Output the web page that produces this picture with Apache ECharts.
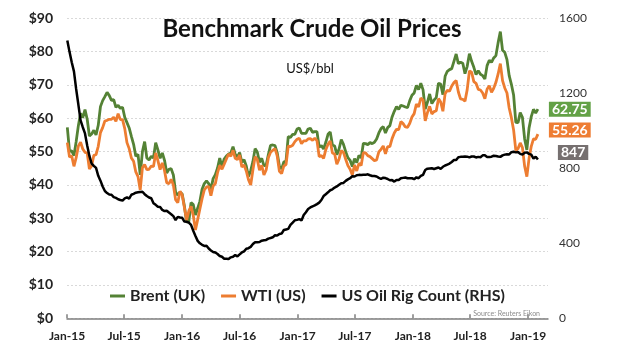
<!DOCTYPE html>
<html>
<head>
<meta charset="utf-8">
<script src="https://cdn.jsdelivr.net/npm/echarts@6/dist/echarts.min.js"></script>
<style>
html,body{margin:0;padding:0;background:#fff;}
#chart{width:620px;height:355px;}
</style>
</head>
<body>
<div id="chart"></div>
<script>
// Weekly observations (Fridays), first week ending 2015-01-02
const firstWeek = '2015-01-02';

const brent = [
  // 2015
  57.3,50.1,50.2,48.8,53.0, 57.8,61.5,60.2,62.6, 59.7,54.7,55.3,56.4, 55.0,57.9,63.5,65.3,
  66.5,67.8,66.8,65.4,65.6, 63.3,63.9,63.0,63.3, 60.3,58.7,57.1,54.6,52.2, 48.6,49.2,43.0,50.0,
  53.0,48.1,47.5,48.6, 48.1,52.7,50.5,48.0,49.6, 47.4,43.6,44.7,44.9, 43.0,37.9,36.9,37.9, 37.3,
  // 2016
  33.6,28.9,29.0,34.7, 34.1,31.0,33.0,35.1, 38.7,40.4,41.2,40.4, 38.7,41.9,43.1,45.1,48.1,
  45.4,47.8,48.7,49.3, 49.6,51.5,49.2,48.4, 49.7,46.8,47.6,45.7,42.5, 44.3,47.0,50.9,49.9,
  46.8,48.0,45.8,45.9,49.1, 51.9,52.0,51.8,49.7, 45.6,44.8,46.9,47.2, 54.5,54.3,55.2,55.2,56.8,
  // 2017
  57.1,55.5,55.5,55.5, 56.8,57.0,55.8,56.0, 56.0,51.4,51.8,50.8,52.8, 55.2,55.9,52.0,51.7,
  49.1,50.8,53.6,52.2, 50.0,48.2,47.4,45.5,47.9, 46.7,48.9,48.1,52.5, 52.4,52.1,52.7,52.4,
  52.8,53.8,55.6,56.9,57.5, 55.6,57.2,57.8,60.4, 62.1,63.5,62.7,63.9, 63.7,63.4,63.2,65.3,66.9,
  // 2018
  67.6,69.9,68.6,70.5, 68.6,62.8,64.8,67.3, 64.4,65.5,66.2,70.5,70.3, 67.1,72.6,74.1,74.6,
  74.9,77.1,79.3,76.4, 76.8,76.5,73.4,75.6,79.4, 77.1,75.3,73.1,74.3, 73.2,72.8,71.8,75.8,77.4,
  76.8,78.1,78.8,82.7, 86.0,80.4,79.8,77.6, 72.8,70.2,67.0,58.8,58.7, 61.7,60.3,53.8,50.5,
  // 2019
  57.1,60.5,62.7,61.6,62.75
];

const wti = [
  // 2015
  52.7,48.4,48.7,45.6,48.2, 51.7,52.8,50.8,49.8, 49.6,44.8,45.7,48.9, 49.1,51.6,55.7,57.2,
  59.2,59.4,59.7,59.7,60.3, 59.1,61.4,59.6,59.6, 56.9,52.7,50.9,48.1,47.1, 43.9,42.5,38.5,45.2,
  46.1,44.6,44.7,45.7, 45.5,49.6,47.3,44.6,46.6, 44.3,40.7,40.4,41.7, 40.0,35.6,34.7,38.1, 37.0,
  // 2016
  33.2,29.4,32.2,33.6, 30.9,26.5,29.6,32.8, 35.9,38.5,39.4,39.5, 36.8,39.7,40.4,43.7,45.9,
  44.7,46.2,47.8,49.3, 48.6,50.4,48.0,47.6, 49.0,45.4,46.0,44.2,41.6, 40.0,44.5,48.5,47.6,
  44.4,45.9,43.0,44.5,48.2, 49.8,50.4,50.9,48.7, 44.1,43.4,45.7,46.1, 51.7,51.5,51.9,53.0,53.7,
  // 2017
  54.0,52.4,53.2,53.2, 53.8,53.9,53.4,54.0, 53.3,48.5,48.8,48.0,50.6, 52.2,53.2,49.6,49.3,
  46.2,47.8,50.3,49.8, 47.7,45.8,44.7,43.0,46.0, 44.2,46.5,45.8,49.7, 49.6,48.8,48.5,47.9,
  47.3,47.5,49.9,50.7,51.7, 49.3,51.5,51.5,53.9, 55.6,56.7,56.6,59.0, 58.4,57.4,57.3,58.5,60.4,
  // 2018
  61.4,64.3,63.4,66.1, 65.5,59.2,61.7,63.6, 61.3,62.0,62.3,65.9,64.9, 62.1,67.4,68.4,68.1,
  69.7,70.7,71.3,67.9, 65.8,65.7,65.1,68.6,74.2, 73.8,71.0,70.5,68.7, 68.5,67.6,65.9,68.7,69.8,
  67.8,69.0,70.8,73.3, 76.4,71.3,69.1,67.6, 63.1,60.2,56.5,50.4,50.9, 52.6,51.2,45.6,42.5,
  // 2019
  48.0,51.6,53.8,53.7,55.26
];

const rigs = [
  // 2015
  1482,1421,1366,1317,1223, 1140,1056,1019,986, 922,866,825,813, 802,760,734,703,
  679,668,660,659,646, 642,635,631,628, 640,645,638,659,664, 670,672,674,675,
  662,652,644,640, 614,605,595,594,578, 572,574,564,555, 545,524,541,538, 536,
  // 2016
  516,515,510,498, 467,439,413,400, 392,386,387,372, 362,354,351,343,332,
  328,318,318,316, 325,328,337,330, 341,351,357,371,374, 381,396,406,406,
  407,414,416,418,425, 428,432,443,441, 450,452,471,474, 477,498,510,523,525,
  // 2017
  529,522,551,566, 583,591,597,602, 609,617,631,652,662, 672,683,688,697,
  703,712,720,722, 733,741,747,758,756, 763,765,764,766, 765,768,763,759,
  759,756,749,744,750, 748,743,736,737, 729,738,738,747, 749,751,747,747,747,
  // 2018
  742,752,747,759, 765,791,798,799, 800,796,800,804,797, 808,815,820,825,
  834,844,844,859, 861,862,863,862,858, 863,863,858,861, 859,869,869,860,860,
  862,867,866,863, 861,869,873,875, 874,886,888,885,887, 877,873,883,885,
  // 2019
  877,873,852,862,847
];

const tickDates = ['2015-01-01','2015-07-01','2016-01-01','2016-07-01','2017-01-01',
                   '2017-07-01','2018-01-01','2018-07-01','2019-01-01'];
const tickLabels = ['Jan-15','Jul-15','Jan-16','Jul-16','Jan-17','Jul-17','Jan-18','Jul-18','Jan-19'];
const priceTicks = [0,10,20,30,40,50,60,70,80,90];
const rigTicks = [0,400,800,1200,1600];

const seriesNames = ['Brent (UK)','WTI (US)','US Oil Rig Count (RHS)'];

const DAY = 86400000;
const t0 = Date.parse(firstWeek + 'T00:00:00Z');
const toPts = arr => arr.map((v, i) => [t0 + i * 7 * DAY, v]);
const tickTs = tickDates.map(d => Date.parse(d + 'T00:00:00Z'));
const labelFor = v => {
  const i = tickTs.indexOf(v);
  return i >= 0 ? tickLabels[i] : '';
};

const FONT = 'Lato';
const chart = echarts.init(document.getElementById('chart'), null, {renderer: 'canvas'});
chart.setOption({
  animation: false,
  backgroundColor: '#fff',
  title: [
    {text: 'Benchmark Crude Oil Prices', left: 307, top: 12, textAlign: 'center',
     textStyle: {fontFamily: FONT, fontWeight: 'bold', fontSize: 24, color: '#111'}},
    {text: 'US$/bbl', left: 305, top: 57, textAlign: 'center',
     textStyle: {fontFamily: FONT, fontWeight: 'normal', fontSize: 13, color: '#111'}},
    {text: 'Source: Reuters Eikon', right: 75, top: 305,
     textStyle: {fontFamily: FONT, fontWeight: 'normal', fontSize: 7, color: '#8c8c8c'}}
  ],
  legend: {
    data: seriesNames,
    left: 105, top: 283,
    icon: 'rect', itemWidth: 15, itemHeight: 3, itemGap: 16,
    textStyle: {fontFamily: FONT, fontWeight: 'bold', fontSize: 16, color: '#222'}
  },
  grid: {left: 67, right: 72, top: 18.3, bottom: 36.7, containLabel: false},
  xAxis: {
    type: 'value',
    min: tickTs[0],
    max: Date.parse('2019-03-05T00:00:00Z'),
    splitLine: {show: false},
    axisLine: {show: true, lineStyle: {color: '#7f7f7f', width: 1.5}},
    axisTick: {show: true, inside: true, length: 4, customValues: tickTs,
               lineStyle: {color: '#7f7f7f', width: 1.5}},
    axisLabel: {customValues: tickTs, formatter: labelFor, margin: 12,
                fontFamily: FONT, fontWeight: 'bold', fontSize: 12, color: '#222'}
  },
  yAxis: [
    {
      type: 'value', min: priceTicks[0], max: priceTicks[priceTicks.length - 1], interval: 10,
      axisLine: {show: false}, axisTick: {show: false},
      splitLine: {show: true, lineStyle: {color: '#d9d9d9', type: [2, 2], width: 1}},
      axisLabel: {formatter: v => '$' + v, margin: 14,
                  fontFamily: FONT, fontWeight: 'bold', fontSize: 14, color: '#222'}
    },
    {
      type: 'value', min: rigTicks[0], max: rigTicks[rigTicks.length - 1], interval: 400,
      axisLine: {show: false}, axisTick: {show: false}, splitLine: {show: false},
      axisLabel: {formatter: v => String(v), margin: 11, fontFamily: FONT, fontSize: 12, color: '#333'}
    }
  ],
  series: [
    {
      name: seriesNames[0], type: 'line', data: toPts(brent), showSymbol: false,
      color: '#548235', lineStyle: {width: 2.8, color: '#548235'},
      endLabel: {show: true, formatter: p => p.value[1].toFixed(2), distance: 11,
                 backgroundColor: '#63a146', color: '#fff', padding: [1, 3, 0, 3],
                 fontFamily: FONT, fontWeight: 'bold', fontSize: 14}
    },
    {
      name: seriesNames[1], type: 'line', data: toPts(wti), showSymbol: false,
      color: '#ed7d31', lineStyle: {width: 2.8, color: '#ed7d31'},
      endLabel: {show: true, formatter: p => p.value[1].toFixed(2), distance: 11, offset: [0, -4],
                 backgroundColor: '#ee7d33', color: '#fff', padding: [1, 3, 0, 3],
                 fontFamily: FONT, fontWeight: 'bold', fontSize: 14}
    },
    {
      name: seriesNames[2], type: 'line', yAxisIndex: 1, data: toPts(rigs), showSymbol: false,
      color: '#000', lineStyle: {width: 2.5, color: '#000'},
      endLabel: {show: true, formatter: p => String(p.value[1]), distance: 11, offset: [9, -7],
                 backgroundColor: '#767070', color: '#fff', padding: [1, 3, 0, 3],
                 fontFamily: FONT, fontWeight: 'bold', fontSize: 14}
    }
  ]
});
</script>
</body>
</html>
